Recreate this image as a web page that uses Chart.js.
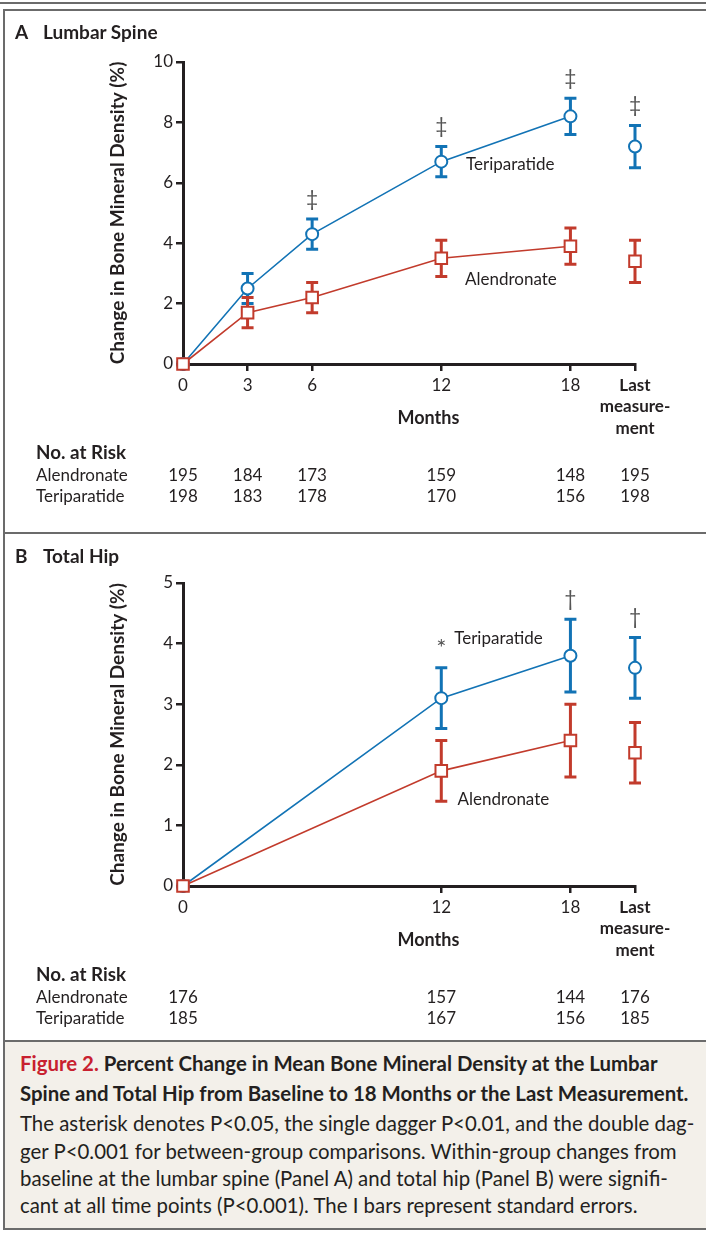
<!DOCTYPE html>
<html>
<head>
<meta charset="utf-8">
<script src="https://cdn.jsdelivr.net/npm/chart.js@4.4.1/dist/chart.umd.min.js"></script>
<style>
  body { margin: 0; background: #fff; font-family: Lato, sans-serif; color: #231f20; }
  #fig { position: relative; width: 706px; height: 1233px; overflow: hidden; }
  .rule { position: absolute; background: #6b6b6b; }
  canvas { position: absolute; left: 0; }
  .ptitle { position: absolute; font-weight: 700; font-size: 19px; line-height: 19px; white-space: nowrap; }
  #cap { position: absolute; left: 5px; top: 1042px; width: 701px; height: 186px; background: #f3f0ea; }
  #cap div { position: absolute; left: 15px; white-space: nowrap; font-size: 20.4px; }
  #cap .t { font-weight: 700; }
  #cap .fig { color: #c8202f; }
</style>
</head>
<body>
<div id="fig">
  <div class="rule" style="left:0;top:2px;width:706px;height:2px"></div>
  <div class="rule" style="left:3px;top:9px;width:703px;height:2px"></div>
  <div class="rule" style="left:3px;top:9px;width:2px;height:1221px"></div>
  <div class="rule" style="left:3px;top:532px;width:703px;height:2px"></div>
  <div class="rule" style="left:3px;top:1040px;width:703px;height:2px"></div>
  <div class="rule" style="left:3px;top:1228px;width:703px;height:2px"></div>

  <canvas id="spine" width="706" height="520" style="top:12px"></canvas>
  <canvas id="hip" width="706" height="502" style="top:536px"></canvas>

  <div class="ptitle" style="left:15px;top:22px">A</div>
  <div class="ptitle" style="left:43px;top:22px">Lumbar Spine</div>
  <div class="ptitle" style="left:15px;top:546px">B</div>
  <div class="ptitle" style="left:43px;top:546px">Total Hip</div>

  <div id="cap">
    <div class="t" style="top:6px;line-height:30px"><span class="fig">Figure 2.</span> Percent Change in Mean Bone Mineral Density at the Lumbar</div>
    <div class="t" style="top:36px;line-height:30px">Spine and Total Hip from Baseline to 18 Months or the Last Measurement.</div>
    <div style="top:67px;line-height:28px">The asterisk denotes P&lt;0.05, the single dagger P&lt;0.01, and the double dag-</div>
    <div style="top:95px;line-height:28px">ger P&lt;0.001 for between-group comparisons. Within-group changes from</div>
    <div style="top:122px;line-height:28px">baseline at the lumbar spine (Panel A) and total hip (Panel B) were signifi-</div>
    <div style="top:149px;line-height:28px">cant at all time points (P&lt;0.001). The I bars represent standard errors.</div>
  </div>
</div>

<script>
// month slot 21 stands for "Last measurement"
const LAST = 21;

// Panel A: lumbar spine
const spineX = [0, 3, 6, 12, 18, LAST];
const spineTeri = [0, 2.5, 4.3, 6.7, 8.2, 7.2];
const spineTeriSE = [0, 0.5, 0.5, 0.5, 0.6, 0.7];
const spineAlen = [0, 1.7, 2.2, 3.5, 3.9, 3.4];
const spineAlenSE = [0, 0.5, 0.5, 0.6, 0.6, 0.7];
const spineSig = ['', '', '\u2021', '\u2021', '\u2021', '\u2021'];
const spineRiskAlen = [195, 184, 173, 159, 148, 195];
const spineRiskTeri = [198, 183, 178, 170, 156, 198];

// Panel B: total hip
const hipX = [0, 12, 18, LAST];
const hipTeri = [0, 3.1, 3.8, 3.6];
const hipTeriSE = [0, 0.5, 0.6, 0.5];
const hipAlen = [0, 1.9, 2.4, 2.2];
const hipAlenSE = [0, 0.5, 0.6, 0.5];
const hipSig = ['', '*', '\u2020', '\u2020'];
const hipRiskAlen = [176, 157, 144, 176];
const hipRiskTeri = [185, 167, 156, 185];

const BLUE = '#1273b5', RED = '#c23b2c', INK = '#231f20';
Chart.defaults.font.family = 'Lato';
Chart.defaults.color = INK;

function pts(xs, ys) { return xs.map((x, i) => ({x: x, y: ys[i]})); }

function extras(p) {
  return {
    id: 'extras',
    beforeDatasetsDraw(chart) {
      const ctx = chart.ctx, xs = chart.scales.x, ys = chart.scales.y;
      ctx.save();
      ctx.lineWidth = 3;
      [[p.teri, p.teriSE, BLUE], [p.alen, p.alenSE, RED]].forEach(([v, se, col]) => {
        ctx.strokeStyle = col;
        p.x.forEach((m, i) => {
          if (!se[i]) return;
          const px = xs.getPixelForValue(m);
          const top = ys.getPixelForValue(v[i] + se[i]), bot = ys.getPixelForValue(v[i] - se[i]);
          ctx.beginPath();
          ctx.moveTo(px, top); ctx.lineTo(px, bot);
          ctx.moveTo(px - 6, top); ctx.lineTo(px + 6, top);
          ctx.moveTo(px - 6, bot); ctx.lineTo(px + 6, bot);
          ctx.stroke();
        });
      });
      ctx.restore();
    },
    afterDatasetsDraw(chart) {
      const ctx = chart.ctx, xs = chart.scales.x, ys = chart.scales.y;
      ctx.save();
      ctx.fillStyle = '#555';
      ctx.textAlign = 'center';
      ctx.textBaseline = 'middle';
      p.sig.forEach((s, i) => {
        if (!s) return;
        ctx.font = s === '*' ? '24px Lato' : '21px Lato';
        const y = ys.getPixelForValue(p.teri[i] + p.teriSE[i]) - (s === '*' ? 20 : 20);
        ctx.fillText(s, xs.getPixelForValue(p.x[i]), y);
      });
      ctx.fillStyle = INK;
      ctx.font = '17px Lato';
      ctx.textAlign = 'left';
      p.labels.forEach(l => ctx.fillText(l.text, xs.getPixelForValue(l.x), ys.getPixelForValue(l.y)));
      ctx.restore();
    },
    afterDraw(chart) {
      const ctx = chart.ctx, xs = chart.scales.x, b = chart.chartArea.bottom;
      ctx.save();
      ctx.fillStyle = INK;
      ctx.textBaseline = 'middle';
      ctx.textAlign = 'center';
      ctx.font = 'bold 18px Lato';
      ctx.fillText('Months', xs.getPixelForValue(11.4), b + 54);
      ctx.textAlign = 'left';
      ctx.font = 'bold 18.8px Lato';
      ctx.fillText('No. at Risk', 36, b + 89);
      ctx.font = '17px Lato';
      ctx.fillText('Alendronate', 36, b + 112);
      ctx.fillText('Teriparatide', 36, b + 133);
      ctx.textAlign = 'center';
      p.x.forEach((m, i) => {
        const px = xs.getPixelForValue(m);
        ctx.fillText(String(p.riskAlen[i]), px, b + 112);
        ctx.fillText(String(p.riskTeri[i]), px, b + 133);
      });
      ctx.restore();
    }
  };
}

function makePanel(id, p) {
  const n = p.x.length - 1;
  const mark = (col, style, r) => ({
    borderColor: col, borderWidth: 1.6, pointStyle: style, pointRadius: r,
    pointBorderWidth: 2, pointBackgroundColor: '#fff', pointBorderColor: col, clip: false
  });
  new Chart(document.getElementById(id), {
    type: 'line',
    data: {
      datasets: [
        Object.assign({label: 'Alendronate', data: pts(p.x.slice(0, n), p.alen.slice(0, n))}, mark(RED, 'rect', 8.2)),
        Object.assign({label: 'Alendronate last', showLine: false, data: pts([p.x[n]], [p.alen[n]])}, mark(RED, 'rect', 8.2)),
        Object.assign({label: 'Teriparatide', data: pts(p.x.slice(0, n), p.teri.slice(0, n))}, mark(BLUE, 'circle', 6)),
        Object.assign({label: 'Teriparatide last', showLine: false, data: pts([p.x[n]], [p.teri[n]])}, mark(BLUE, 'circle', 6))
      ]
    },
    options: {
      responsive: false, animation: false, devicePixelRatio: 1,
      layout: {padding: p.pad},
      plugins: {legend: {display: false}, tooltip: {enabled: false}},
      scales: {
        x: {
          type: 'linear', min: 0, max: LAST,
          afterBuildTicks: s => { s.ticks = p.x.map(v => ({value: v})); },
          afterFit: s => { s.height = 80; },
          ticks: {
            autoSkip: false, maxRotation: 0, padding: 4, color: INK,
            callback: v => v === LAST ? ['Last', 'measure-', 'ment'] : String(v),
            font: c => ({family: 'Lato', size: 17, lineHeight: 1.25, weight: c.tick && c.tick.value === LAST ? 'bold' : 'normal'})
          },
          grid: {drawOnChartArea: false, tickLength: 7, color: INK, lineWidth: 2.5},
          border: {color: INK, width: 3}
        },
        y: {
          min: 0, max: p.ymax,
          afterFit: s => { s.width = 183; },
          ticks: {stepSize: p.ystep, padding: 3, color: INK, font: {size: 17}},
          grid: {drawOnChartArea: false, tickLength: 7, color: INK, lineWidth: 2.5},
          border: {color: INK, width: 3},
          title: {display: true, text: 'Change in Bone Mineral Density (%)', color: INK,
                  font: {size: 19, weight: 'bold'}, padding: {top: 106, bottom: 0}}
        }
      }
    },
    plugins: [extras(p)]
  });
}

makePanel('spine', {
  x: spineX, teri: spineTeri, teriSE: spineTeriSE, alen: spineAlen, alenSE: spineAlenSE,
  sig: spineSig, riskAlen: spineRiskAlen, riskTeri: spineRiskTeri, ymax: 10, ystep: 2,
  labels: [{text: 'Teriparatide', x: 13.15, y: 6.6}, {text: 'Alendronate', x: 13.1, y: 2.8}],
  pad: {left: 0, right: 71, top: 50, bottom: 88}
});

makePanel('hip', {
  x: hipX, teri: hipTeri, teriSE: hipTeriSE, alen: hipAlen, alenSE: hipAlenSE,
  sig: hipSig, riskAlen: hipRiskAlen, riskTeri: hipRiskTeri, ymax: 5, ystep: 1,
  labels: [{text: 'Teriparatide', x: 12.6, y: 4.09}, {text: 'Alendronate', x: 12.75, y: 1.42}],
  pad: {left: 0, right: 71, top: 47, bottom: 72}
});
</script>
</body>
</html>
